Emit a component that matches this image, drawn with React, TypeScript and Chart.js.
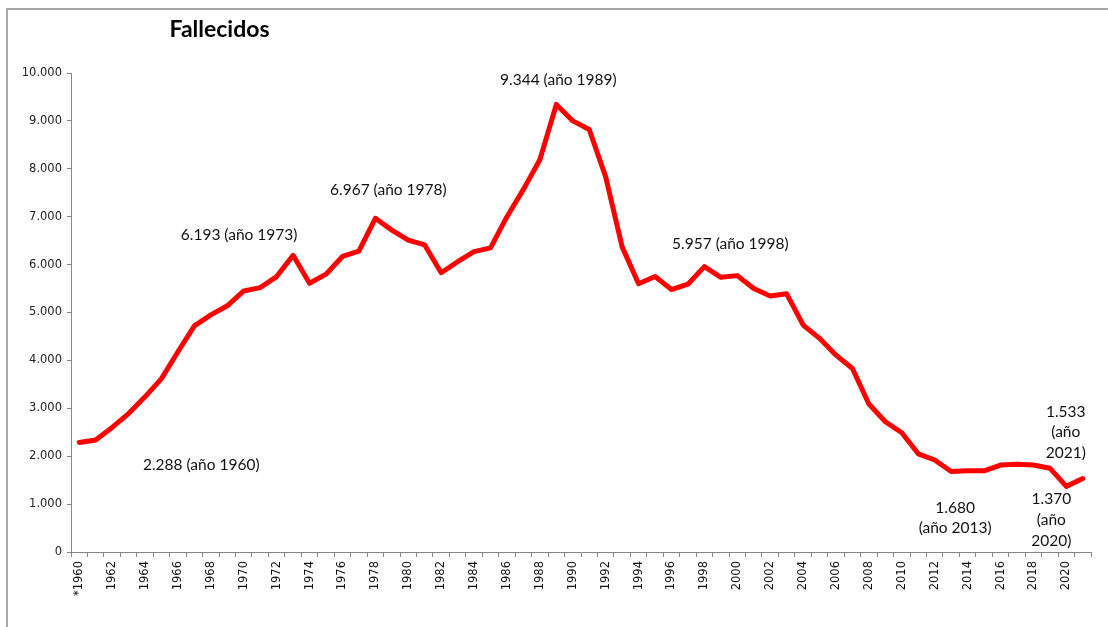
import React, { useEffect, useRef } from 'react';
import { Chart, registerables } from 'chart.js';

Chart.register(...registerables);

const categories = [
  '*1960', '1961', '1962', '1963', '1964', '1965', '1966', '1967', '1968', '1969',
  '1970', '1971', '1972', '1973', '1974', '1975', '1976', '1977', '1978', '1979',
  '1980', '1981', '1982', '1983', '1984', '1985', '1986', '1987', '1988', '1989',
  '1990', '1991', '1992', '1993', '1994', '1995', '1996', '1997', '1998', '1999',
  '2000', '2001', '2002', '2003', '2004', '2005', '2006', '2007', '2008', '2009',
  '2010', '2011', '2012', '2013', '2014', '2015', '2016', '2017', '2018', '2019',
  '2020', '2021',
];

const deaths = [
  2288, 2340, 2600, 2890, 3240, 3620, 4180, 4720, 4950, 5140,
  5450, 5520, 5750, 6193, 5610, 5800, 6170, 6280, 6967, 6720,
  6510, 6410, 5830, 6060, 6270, 6350, 7000, 7570, 8190, 9344,
  9000, 8820, 7830, 6370, 5600, 5750, 5480, 5590, 5957, 5735,
  5770, 5500, 5345, 5390, 4740, 4460, 4110, 3830, 3090, 2720,
  2490, 2050, 1920, 1680, 1695, 1695, 1815, 1830, 1815, 1750,
  1370, 1533,
];

const yMin = 0;
const yMax = 10000;
const yStep = 1000;

const title = 'Fallecidos';

// annotation texts (one entry per annotated year)
const annotationYears = ['1973', '1978', '1989', '1998', '*1960', '2013', '2020', '2021'];
const annotationLines = [
  ['6.193 (año 1973)'],
  ['6.967 (año 1978)'],
  ['9.344 (año 1989)'],
  ['5.957 (año 1998)'],
  ['2.288 (año 1960)'],
  ['1.680', '(año 2013)'],
  ['1.370', '(año', '2020)'],
  ['1.533', '(año', '2021)'],
];
// label offsets from the data point (style, not data)
const annotationOffsets = [
  [-54, -15], [13, -23], [2, -19], [26, -18], [122, 28], [4, 41], [-15, 18], [-17, -62],
];

function fmtThousands(v: number): string {
  if (v === 0) return '0';
  const s = String(Math.round(v));
  return s.replace(/\B(?=(\d{3})+(?!\d))/g, '.');
}

const decorPlugin = {
  id: 'decor',
  beforeDraw(chart: any) {
    const ctx = chart.ctx;
    ctx.save();
    ctx.fillStyle = '#ffffff';
    ctx.fillRect(0, 0, chart.width, chart.height);
    ctx.strokeStyle = '#a6a6a6';
    ctx.lineWidth = 2;
    ctx.beginPath();
    ctx.moveTo(7, chart.height);
    ctx.lineTo(7, 9);
    ctx.lineTo(chart.width, 9);
    ctx.stroke();
    ctx.restore();
  },
  afterDatasetsDraw(chart: any) {
    const ctx = chart.ctx;
    const xs = chart.scales.x;
    const ys = chart.scales.y;
    ctx.save();
    ctx.font = '15.5px Lato';
    ctx.fillStyle = '#111111';
    ctx.textAlign = 'center';
    ctx.textBaseline = 'alphabetic';
    annotationYears.forEach((yr, k) => {
      const idx = categories.indexOf(yr);
      const px = xs.getPixelForValue(idx);
      const py = ys.getPixelForValue(deaths[idx]);
      const [dx, dy] = annotationOffsets[k];
      annotationLines[k].forEach((line, i) => {
        ctx.fillText(line, px + dx, py + dy + i * 20.7);
      });
    });
    ctx.font = 'bold 23px Lato';
    ctx.fillStyle = '#000000';
    ctx.fillText(title, 219.5, 36.5);
    ctx.restore();
  },
};

export default function App() {
  const canvasRef = useRef<HTMLCanvasElement | null>(null);

  useEffect(() => {
    if (!canvasRef.current) return;
    const axisColor = '#868686';
    const chart = new Chart(canvasRef.current, {
      type: 'line',
      data: {
        labels: categories,
        datasets: [
          {
            data: deaths,
            borderColor: '#ff0000',
            backgroundColor: '#ff0000',
            borderWidth: 5,
            pointRadius: 0,
            pointHoverRadius: 0,
            tension: 0,
            fill: false,
            borderJoinStyle: 'round',
            borderCapStyle: 'round',
          },
        ],
      },
      options: {
        responsive: false,
        animation: false,
        devicePixelRatio: 1,
        layout: { padding: { top: 73, right: 17, left: 0, bottom: 0 } },
        plugins: {
          legend: { display: false },
          title: { display: false },
          tooltip: { enabled: false },
        },
        scales: {
          x: {
            type: 'category',
            offset: true,
            grid: {
              display: true,
              offset: true,
              drawOnChartArea: false,
              drawTicks: true,
              tickLength: 5,
              color: axisColor,
            },
            border: { display: true, color: axisColor, width: 1 },
            ticks: {
              autoSkip: false,
              maxRotation: 90,
              minRotation: 90,
              padding: 4,
              color: '#111111',
              font: { family: 'DejaVu Sans', size: 11.5 },
              callback: (_v: any, i: number) => (i % 2 === 0 ? categories[i] : ''),
            },
            afterFit: (s: any) => {
              s.height = 75;
            },
          },
          y: {
            min: yMin,
            max: yMax,
            grid: {
              display: true,
              drawOnChartArea: false,
              drawTicks: true,
              tickLength: 4,
              color: axisColor,
            },
            border: { display: true, color: axisColor, width: 1 },
            ticks: {
              stepSize: yStep,
              padding: 5,
              color: '#222222',
              font: { family: 'DejaVu Sans', size: 11.5 },
              callback: (v: any) => fmtThousands(Number(v)),
            },
            afterFit: (s: any) => {
              s.width = 71;
            },
          },
        },
      },
      plugins: [decorPlugin],
    } as any);
    return () => chart.destroy();
  }, []);

  return (
    <div style={{ position: 'fixed', left: 0, top: 0, width: 1108, height: 627, background: '#fff' }}>
      <canvas ref={canvasRef} width={1108} height={627} style={{ display: 'block' }} />
    </div>
  );
}
